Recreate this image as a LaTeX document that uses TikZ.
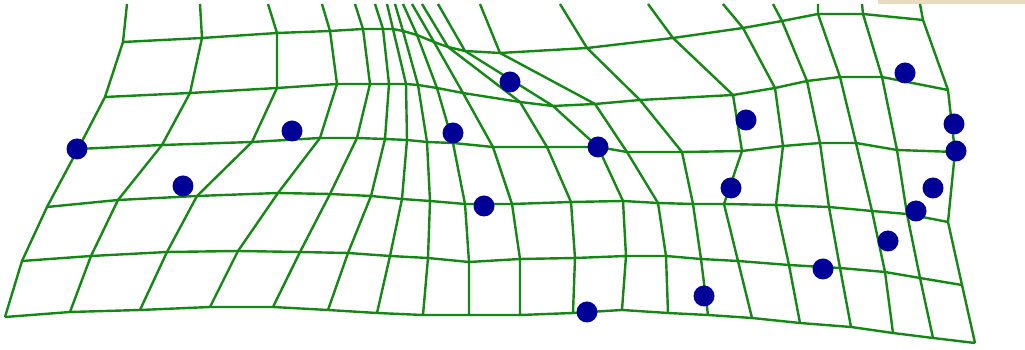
\documentclass[tikz,border=0pt]{standalone}
\definecolor{gridgreen}{RGB}{20,135,20}
\definecolor{dotblue}{RGB}{0,0,150}
\definecolor{tanstrip}{RGB}{232,220,190}
\begin{document}
\begin{tikzpicture}[x=0.02cm,y=-0.02cm,
  gridline/.style={draw=gridgreen,line width=0.048cm,line join=round},
  dot/.style={circle,fill=dotblue,inner sep=0pt,minimum size=0.42cm}]
\useasboundingbox (0,0) rectangle (1025,350);
\fill[tanstrip] (878,0) rectangle (1025,4);
% top ends of the columns
\foreach \c/\x in {0/127,1/200,2/268,3/322,4/355,5/375,6/387,7/395,8/403,9/412,10/422,11/438,12/480,13/560,14/648,15/723,16/773,17/818,18/862,19/920}
  \coordinate (t-\c) at (\x,4);
% row 0
\foreach \c/\x/\y in {0/123/42,1/202/38,2/277/33,3/330/31,4/363/29,5/383/29,6/393/29,7/403/31,8/417/35,9/434/42,10/448/47,11/465/51,12/500/53,13/587/48,14/673/38,15/743/28,16/782/21,17/818/14,18/863/14,19/923/20}
  \coordinate (r0-\c) at (\x,\y);
% row 1
\foreach \c/\x/\y in {0/105/97,1/190/93,2/277/88,3/337/84,4/370/84,5/389/84,6/406/84,7/418/85,8/437/88,9/463/93,10/520/102,11/553/106,12/595/104,13/640/100,14/733/95,15/775/88,16/807/81,17/840/77,18/882/77,19/948/90}
  \coordinate (r1-\c) at (\x,\y);
% row 2
\foreach \c/\x/\y in {0/78/149,1/162/145,2/252/142,3/320/138,4/357/138,5/385/139,6/407/140,7/427/142,8/453/143,9/493/147,10/547/147,11/598/147,12/627/152,13/682/152,14/742/151,15/783/146,16/820/143,17/856/143,18/897/150,19/955/152}
  \coordinate (r2-\c) at (\x,\y);
% row 3
\foreach \c/\x/\y in {0/47/207,1/118/200,2/197/196,3/278/193,4/330/194,5/371/196,6/402/199,7/430/201,8/465/204,9/512/204,10/571/202,11/623/201,12/658/203,13/693/204,14/724/204,15/776/205,16/829/207,17/872/211,18/907/214,19/948/222}
  \coordinate (r3-\c) at (\x,\y);
% row 4
\foreach \c/\x/\y in {0/22/261,1/91/256,2/167/252,3/238/251,4/300/252,5/348/253,6/390/256,7/428/258,8/469/262,9/520/259,10/575/258,11/626/256,12/666/256,13/701/259,14/738/261,15/789/265,16/840/268,17/885/272,18/920/278,19/962/285}
  \coordinate (r4-\c) at (\x,\y);
% row 5
\foreach \c/\x/\y in {0/5/317,1/70/312,2/140/310,3/210/307,4/273/307,5/328/310,6/377/313,7/423/315,8/469/315,9/520/315,10/573/313,11/622/310,12/668/313,13/708/315,14/752/318,15/800/323,16/851/327,17/893/333,18/933/338,19/975/343}
  \coordinate (r5-\c) at (\x,\y);
% rows
\foreach \r in {r0,r1,r2,r3,r4,r5}
  \draw[gridline] (\r-0) \foreach \c in {1,...,19}{ -- (\r-\c)};
% columns
\foreach \c in {0,...,19}
  \draw[gridline] (t-\c) -- (r0-\c) -- (r1-\c) -- (r2-\c) -- (r3-\c) -- (r4-\c) -- (r5-\c);
% landmarks
\foreach \n/\x/\y in {1/77/149,2/183/186,3/292/131,4/453/133,5/510/82,6/598/147,7/484/206,8/587/312,9/704/296,10/731/188,11/746/120,12/823/269,13/888/241,14/916/211,15/933/188,16/905/73,17/954/124,18/956/151}
  \node[dot] (d\n) at (\x,\y) {};
\end{tikzpicture}
\end{document}
